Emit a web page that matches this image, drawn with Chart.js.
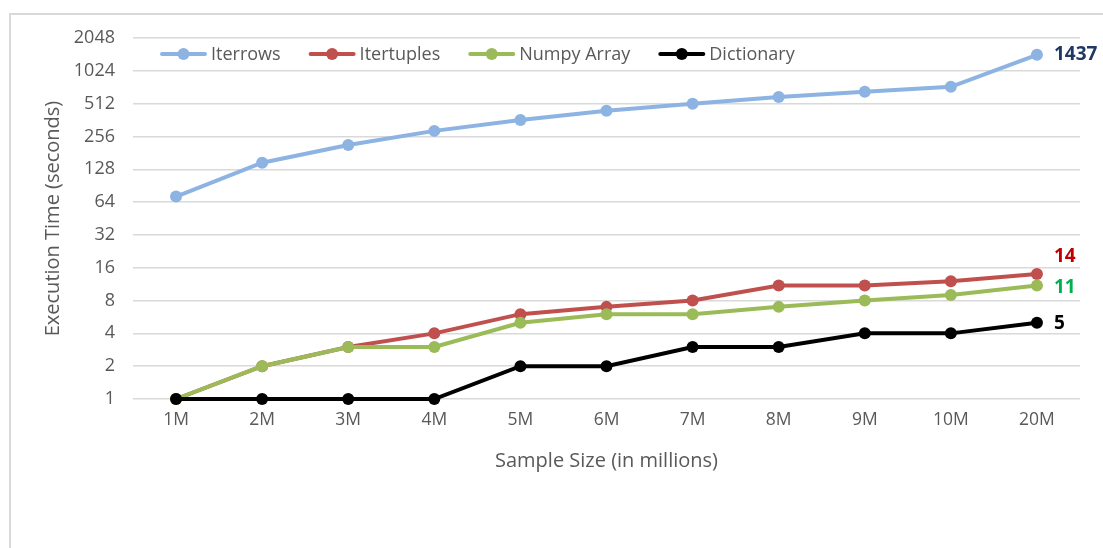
<!DOCTYPE html>
<html>
<head>
<meta charset="utf-8">
<script src="https://cdn.jsdelivr.net/npm/chart.js@4/dist/chart.umd.min.js"></script>
<style>
  html, body { margin: 0; padding: 0; background: #fff; overflow: hidden; }
  #frame { position: absolute; left: 9px; top: 13px; width: 1200px; height: 700px; border: 2px solid #d9d9d9; }
  #wrap { position: absolute; left: 0; top: 0; width: 1103px; height: 548px; }
</style>
</head>
<body>
<div id="frame"></div>
<div id="wrap"><canvas id="lineChart" width="1103" height="548"></canvas></div>
<script>
var sizes = ["1M","2M","3M","4M","5M","6M","7M","8M","9M","10M","20M"];
var iterrows   = [72, 147, 214, 288, 363, 440, 510, 590, 657, 730, 1437];
var itertuples = [1, 2, 3, 4, 6, 7, 8, 11, 11, 12, 14];
var numpyArr   = [1, 2, 3, 3, 5, 6, 6, 7, 8, 9, 11];
var dictionary = [1, 1, 1, 1, 2, 2, 3, 3, 4, 4, 5];
var yTicks = [1, 2, 4, 8, 16, 32, 64, 128, 256, 512, 1024, 2048];

var names   = ["Iterrows", "Itertuples", "Numpy Array", "Dictionary"];
var colors  = ["#8db3e2", "#c0504d", "#9bbb59", "#000000"];
var endCols = ["#1f3864", "#c00000", "#00b050", "#000000"];
var endText = ["1437", "14", "11", "5"];
var endShift = [0, -17, 2, 1];

var FONT = "'Open Sans', sans-serif";
var GRAY = "#595959";

function makeSet(i, values){
	return {
		label: names[i],
		data: values,
		order: names.length - i,   // later series on top, like Excel
		clip: false,
		borderColor: colors[i],
		backgroundColor: colors[i],
		borderWidth: 4,
		pointRadius: 6,
		pointHoverRadius: 6,
		pointBorderWidth: 0,
		tension: 0,
		fill: false
	};
}

// legend drawn inside the plot, Excel style
var legendPlugin = {
	id: 'xlLegend',
	afterDraw: function(chart){
		var ctx = chart.ctx;
		var x = 160, y = chart.chartArea.top + 16;
		ctx.save();
		ctx.font = "18px " + FONT;
		ctx.textBaseline = 'middle';
		for (var i = 0; i < names.length; i++){
			ctx.strokeStyle = colors[i];
			ctx.lineWidth = 4;
			ctx.lineCap = 'round';
			ctx.beginPath();
			ctx.moveTo(x + 2, y);
			ctx.lineTo(x + 45, y);
			ctx.stroke();
			ctx.fillStyle = colors[i];
			ctx.beginPath();
			ctx.arc(x + 23.5, y, 6, 0, Math.PI * 2);
			ctx.fill();
			ctx.fillStyle = GRAY;
			ctx.fillText(names[i], x + 51, y + 1);
			x += 51 + ctx.measureText(names[i]).width + 28;
		}
		ctx.restore();
	}
};

// value labels at the end of each line
var endPlugin = {
	id: 'endLabels',
	afterDatasetsDraw: function(chart){
		var ctx = chart.ctx;
		ctx.save();
		ctx.font = "bold 19px " + FONT;
		ctx.textBaseline = 'middle';
		chart.data.datasets.forEach(function(ds, i){
			var meta = chart.getDatasetMeta(i);
			var pt = meta.data[meta.data.length - 1];
			ctx.fillStyle = endCols[i];
			ctx.fillText(endText[i], pt.x + 17, pt.y + endShift[i]);
		});
		ctx.restore();
	}
};

const CHART = document.getElementById("lineChart");
let lineChart = new Chart(CHART, {
	type: 'line',
	data: {
		labels: sizes,
		datasets: [makeSet(0, iterrows), makeSet(1, itertuples), makeSet(2, numpyArr), makeSet(3, dictionary)]
	},
	plugins: [legendPlugin, endPlugin],
	options: {
		responsive: false,
		animation: false,
		layout: { padding: { left: 37, top: 38, right: 23, bottom: 71 } },
		plugins: { legend: { display: false }, tooltip: { enabled: false } },
		scales: {
			x: {
				type: 'category',
				offset: true,
				grid: { display: false, drawTicks: false },
				border: { display: false },
				ticks: { color: GRAY, font: { family: FONT, size: 17.5 }, padding: 11, maxRotation: 0 },
				title: { display: true, text: "Sample Size (in millions)", color: GRAY, font: { family: FONT, size: 20 } },
				afterFit: function(s){ s.height = 78; }
			},
			y: {
				type: 'logarithmic',
				min: 1,
				max: 2048,
				afterBuildTicks: function(s){ s.ticks = yTicks.map(function(v){ return { value: v }; }); },
				grid: { color: "#d9d9d9", lineWidth: 1.5, drawTicks: false },
				border: { display: false },
				ticks: {
					color: GRAY, font: { family: FONT, size: 18 }, padding: 18,
					callback: function(v){ return String(v); }
				},
				title: { display: true, text: "Execution Time (seconds)", color: GRAY, font: { family: FONT, size: 20 } },
				afterFit: function(s){ s.width = 96; }
			}
		}
	}
});
</script>
</body>
</html>
